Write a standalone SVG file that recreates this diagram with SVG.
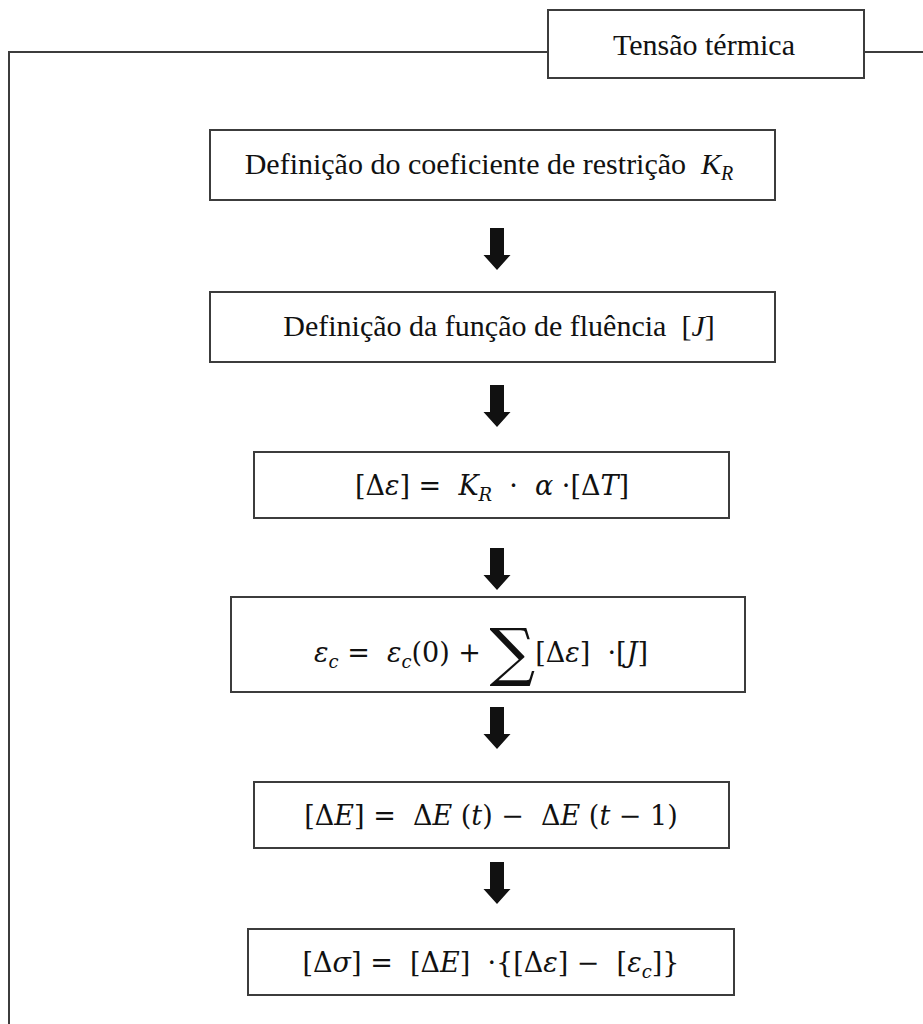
<svg xmlns="http://www.w3.org/2000/svg" width="923" height="1024" viewBox="0 0 923 1024">
<style>
.frame{fill:none;stroke:#3c3c3c;stroke-width:2}
.box{fill:#fff;stroke:#3c3c3c;stroke-width:2}
.t{font-family:'Liberation Serif','Times New Roman',serif;font-size:30px;fill:#111;white-space:pre}
.m{font-family:'DejaVu Serif',serif;font-size:27px;fill:#111;white-space:pre}
.i{font-style:italic}
.arr{fill:#111}
</style>
<defs>
<path id="arrow" d="M-7,0 H7 V27 H13.5 L0,42 L-13.5,27 H-7 Z"/>
</defs>
<g id="frame">
<path class="frame" d="M9,1024 V52 H548 M864,52 H923"/>
</g>
<g id="title">
<rect class="box" x="548" y="10" width="316" height="68"/>
<text class="t" x="704" y="55" text-anchor="middle" font-size="31">Tensão térmica</text>
</g>
<g id="n1">
<rect class="box" x="210" y="130" width="565" height="70"/>
<text class="t" xml:space="preserve" x="489" y="174" text-anchor="middle">Definição do coeficiente de restrição  <tspan class="i">K</tspan><tspan class="i" font-size="20" dy="6">R</tspan></text>
</g>
<g id="n2">
<rect class="box" x="210" y="292" width="565" height="70"/>
<text class="t" xml:space="preserve" x="499" y="336" text-anchor="middle">Definição da função de fluência  [<tspan class="i">J</tspan>]</text>
</g>
<g id="n3">
<rect class="box" x="254" y="452" width="475" height="66"/>
<text class="m" xml:space="preserve" x="492" y="495" text-anchor="middle">[Δ<tspan class="i">ε</tspan>] =  <tspan class="i">K</tspan><tspan class="i" font-size="18" dy="6">R</tspan><tspan dy="-6">  ·  </tspan><tspan class="i">α</tspan> ·[Δ<tspan class="i">T</tspan>]</text>
</g>
<g id="n4">
<rect class="box" x="231" y="597" width="514" height="95"/>
<text class="m" xml:space="preserve" x="481" y="662" text-anchor="middle"><tspan class="i">ε</tspan><tspan class="i" font-size="18" dy="6">c</tspan><tspan dy="-6"> =  </tspan><tspan class="i">ε</tspan><tspan class="i" font-size="18" dy="6">c</tspan><tspan dy="-6">(0) + </tspan><tspan font-size="64" dy="12">∑</tspan><tspan dy="-12">[Δ</tspan><tspan class="i">ε</tspan>]  ·[<tspan class="i">J</tspan>]</text>
</g>
<g id="n5">
<rect class="box" x="254" y="782" width="475" height="66"/>
<text class="m" xml:space="preserve" x="491" y="825" text-anchor="middle">[Δ<tspan class="i">E</tspan>] =  Δ<tspan class="i">E</tspan> (<tspan class="i">t</tspan>) −  Δ<tspan class="i">E</tspan> (<tspan class="i">t</tspan> − 1)</text>
</g>
<g id="n6">
<rect class="box" x="248" y="929" width="486" height="66"/>
<text class="m" xml:space="preserve" x="491" y="972" text-anchor="middle">[Δ<tspan class="i">σ</tspan>] =  [Δ<tspan class="i">E</tspan>]  ·{[Δ<tspan class="i">ε</tspan>] −  [<tspan class="i">ε</tspan><tspan class="i" font-size="18" dy="6">c</tspan><tspan dy="-6">]}</tspan></text>
</g>
<g id="connectors" class="arr">
<use href="#arrow" transform="translate(497,228)"/>
<use href="#arrow" transform="translate(497,385)"/>
<use href="#arrow" transform="translate(497,548)"/>
<use href="#arrow" transform="translate(497,707)"/>
<use href="#arrow" transform="translate(497,862)"/>
</g>
</svg>
